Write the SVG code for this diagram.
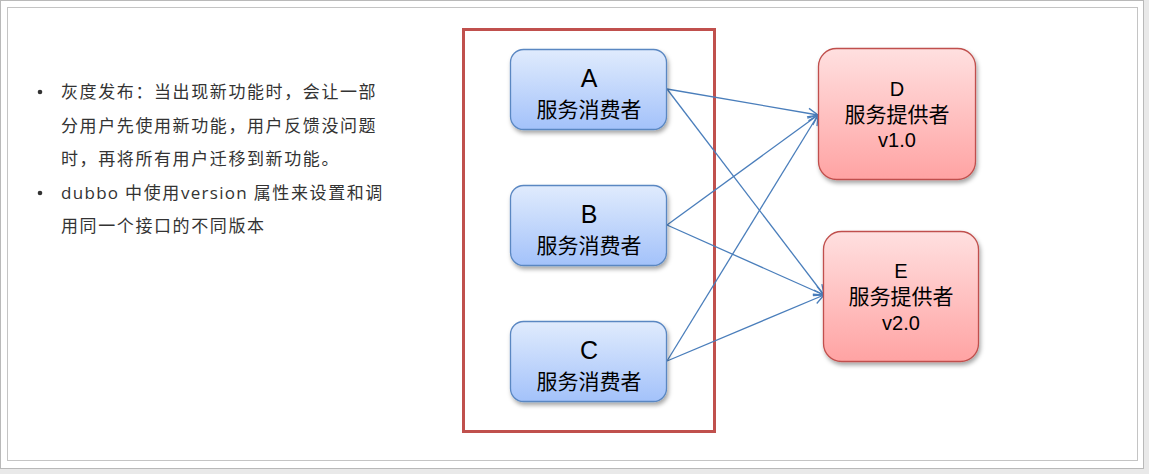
<svg xmlns="http://www.w3.org/2000/svg" width="1149" height="474" viewBox="0 0 1149 474">
<style>
.txt{font-family:"Noto Sans CJK SC","Noto Sans",sans-serif;font-size:17px;fill:#333;letter-spacing:1.6px}
.lat{font-family:"Open Sans","Noto Sans CJK SC",sans-serif;letter-spacing:1.3px}
.lbl{font-family:"Liberation Sans","Noto Sans CJK SC",sans-serif;fill:#000;text-anchor:middle}
.cons{fill:url(#gb);stroke:#5a87c2;stroke-width:1.3}
.prov{fill:url(#gr);stroke:#c0504d;stroke-width:1.3}
.conn path{fill:none;stroke:#4a7ebb;stroke-width:1.3;marker-end:url(#ah)}
</style>
<defs>
<linearGradient id="gb" x1="0" y1="0" x2="0" y2="1"><stop offset="0" stop-color="#e0ebfd"/><stop offset="1" stop-color="#a3c2fa"/></linearGradient>
<linearGradient id="gr" x1="0" y1="0" x2="0" y2="1"><stop offset="0" stop-color="#ffe0e0"/><stop offset="1" stop-color="#ffa3a3"/></linearGradient>
<filter id="sh" x="-10%" y="-10%" width="130%" height="140%"><feDropShadow dx="1.5" dy="3" stdDeviation="2" flood-color="#000" flood-opacity="0.35"/></filter>
<marker id="ah" viewBox="0 0 12 12" refX="11" refY="6" markerWidth="12" markerHeight="12" markerUnits="userSpaceOnUse" orient="auto"><path d="M1,1 L11,6 L1,11" fill="none" stroke="#4a7ebb" stroke-width="1.3"/></marker>
</defs>
<rect x="0" y="0" width="1149" height="474" fill="#e9e9e9"/>
<rect x="0.5" y="0.5" width="1143" height="468" fill="#fff" stroke="#b9b9b9"/>
<rect x="7.5" y="7.5" width="1130" height="453" fill="#fff" stroke="#c4c4c4"/>
<g id="notes">
<circle cx="40" cy="92" r="2.3" fill="#333"/>
<circle cx="40" cy="193" r="2.3" fill="#333"/>
<text class="txt" x="61" y="98">灰度发布：当出现新功能时，会让一部</text>
<text class="txt" x="61" y="132">分用户先使用新功能，用户反馈没问题</text>
<text class="txt" x="61" y="165">时，再将所有用户迁移到新功能。</text>
<text class="txt" x="61" y="199"><tspan class="lat">dubbo </tspan>中使用<tspan class="lat">version </tspan>属性来设置和调</text>
<text class="txt" x="61" y="232">用同一个接口的不同版本</text>
</g>
<g id="group-box"><rect x="463.5" y="29.5" width="251" height="402" fill="none" stroke="#c0504d" stroke-width="3"/></g>
<g class="conn" id="connectors">
<path d="M667,89 L818,115"/>
<path d="M667,89 L824,295"/>
<path d="M667,225 L818,115"/>
<path d="M667,225 L824,295"/>
<path d="M667,361 L818,115"/>
<path d="M667,361 L824,295"/>
</g>
<g id="nodeA"><rect class="cons" x="510.5" y="49.5" width="156" height="80" rx="13" filter="url(#sh)"/><text class="lbl" x="589" y="87" font-size="25">A</text><text class="lbl" x="589" y="117" font-size="21">服务消费者</text></g>
<g id="nodeB"><rect class="cons" x="510.5" y="185.5" width="156" height="80" rx="13" filter="url(#sh)"/><text class="lbl" x="589" y="223" font-size="25">B</text><text class="lbl" x="589" y="253" font-size="21">服务消费者</text></g>
<g id="nodeC"><rect class="cons" x="510.5" y="321.5" width="156" height="80" rx="13" filter="url(#sh)"/><text class="lbl" x="589" y="359" font-size="25">C</text><text class="lbl" x="589" y="389" font-size="21">服务消费者</text></g>
<g id="nodeD"><rect class="prov" x="818.5" y="48.5" width="157" height="131" rx="18" filter="url(#sh)"/><text class="lbl" x="897" y="96" font-size="20">D</text><text class="lbl" x="897" y="122" font-size="21">服务提供者</text><text class="lbl" x="897" y="147" font-size="20">v1.0</text></g>
<g id="nodeE"><rect class="prov" x="823.5" y="231.5" width="155" height="130" rx="18" filter="url(#sh)"/><text class="lbl" x="901" y="278" font-size="20">E</text><text class="lbl" x="901" y="304" font-size="21">服务提供者</text><text class="lbl" x="901" y="330" font-size="20">v2.0</text></g>
</svg>
